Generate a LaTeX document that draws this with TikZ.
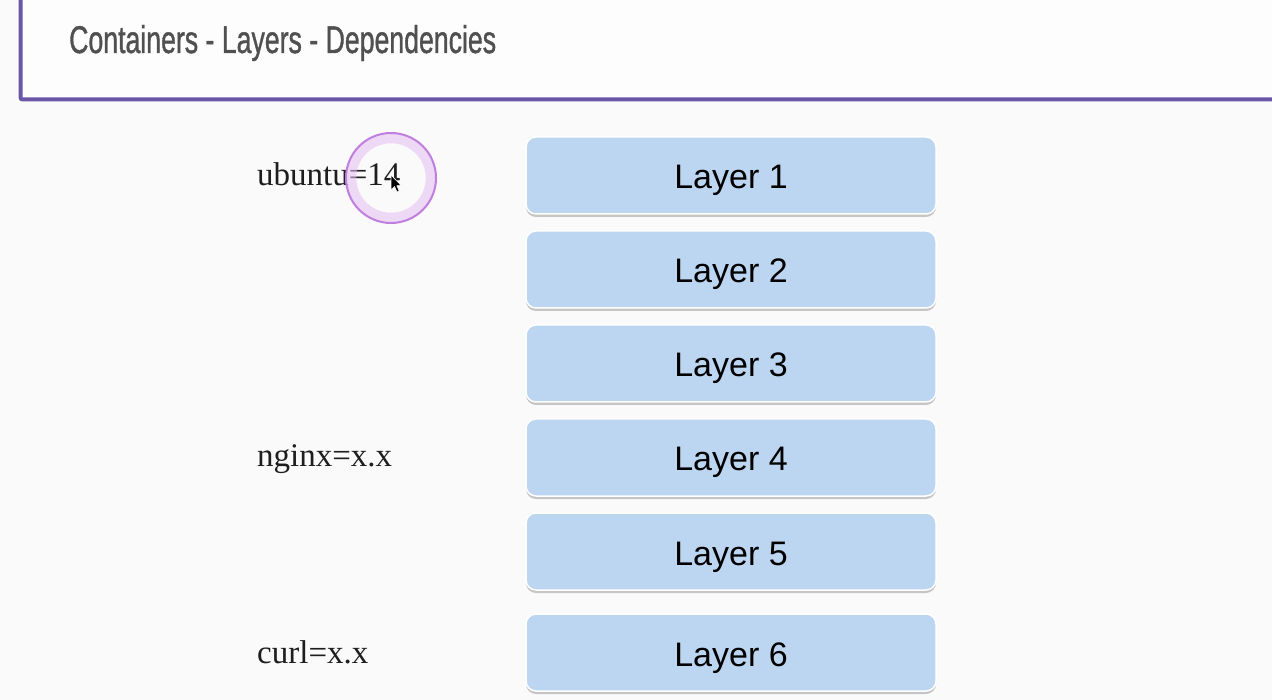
\documentclass[tikz,border=0pt]{standalone}
\usepackage{fontspec}
\setmainfont{Liberation Serif}
\newfontfamily\arialfont{Liberation Sans}
\newfontfamily\titlefont[FakeBold=1.2]{Liberation Sans}
\usetikzlibrary{shadows}
\definecolor{bgc}{HTML}{FAFAFA}
\definecolor{headc}{HTML}{6A57A8}
\definecolor{titlec}{HTML}{505050}
\definecolor{layerc}{HTML}{BCD5F0}
\definecolor{ringc}{HTML}{E4BDF2}
\definecolor{ringedge}{HTML}{C07EDE}
\definecolor{labelc}{HTML}{1E1E1E}
\tikzset{
  layerbox/.style={draw=white, line width=1.5pt, fill=layerc, rounded corners=10pt,
    minimum width=410pt, minimum height=77pt, inner sep=0pt,
    text height=27pt, text depth=0pt,
    font=\arialfont\fontsize{34}{34}\selectfont, text=black,
    drop shadow={shadow xshift=0pt, shadow yshift=-3pt, opacity=0.3, fill=black!70}},
  deplabel/.style={anchor=base west, inner sep=0pt, text=labelc, font=\fontsize{33}{34}\selectfont},
}
\begin{document}
\begin{tikzpicture}[x=1pt,y=-1pt]
\useasboundingbox (0,0) rectangle (1272,700);
\fill[bgc] (0,0) rectangle (1272,700);
% header
\fill[white!60!bgc] (20.5,-5) rectangle (1280,99.5);
\draw[headc, line width=4pt, rounded corners=2pt] (20.5,-10) -- (20.5,99.5) -- (1290,99.5);
\node[anchor=base west, inner sep=0pt, text=titlec] (title) at (69,53)
  {\resizebox{427pt}{28pt}{\titlefont\fontsize{38}{38}\selectfont Containers - Layers - Dependencies}};
% layers
\node[layerbox] (L1) at (731,175.5) {Layer 1};
\node[layerbox] (L2) at (731,269.5) {Layer 2};
\node[layerbox] (L3) at (731,363.5) {Layer 3};
\node[layerbox] (L4) at (731,457.5) {Layer 4};
\node[layerbox] (L5) at (731,551.5) {Layer 5};
\node[layerbox] (L6) at (731,652.5) {Layer 6};
% dependency labels
\node[deplabel] (ubuntu) at (257,186) {ubuntu=14};
\node[deplabel] (nginx) at (257,467) {nginx=x.x};
\node[deplabel] (curl) at (257,663) {curl=x.x};
% click highlight
\draw[ringc, line width=10.5pt, opacity=0.55] (391,178) circle[radius=40];
\draw[ringedge, line width=2pt] (391,178) circle[radius=45];
% mouse cursor
\filldraw[fill=black, draw=white, line width=0.6pt, line join=round]
  (391,175) -- (391,190) -- (394.5,186.5) -- (397,192) -- (399.2,191) -- (396.8,185.6) -- (401.2,185.6) -- cycle;
\end{tikzpicture}
\end{document}
